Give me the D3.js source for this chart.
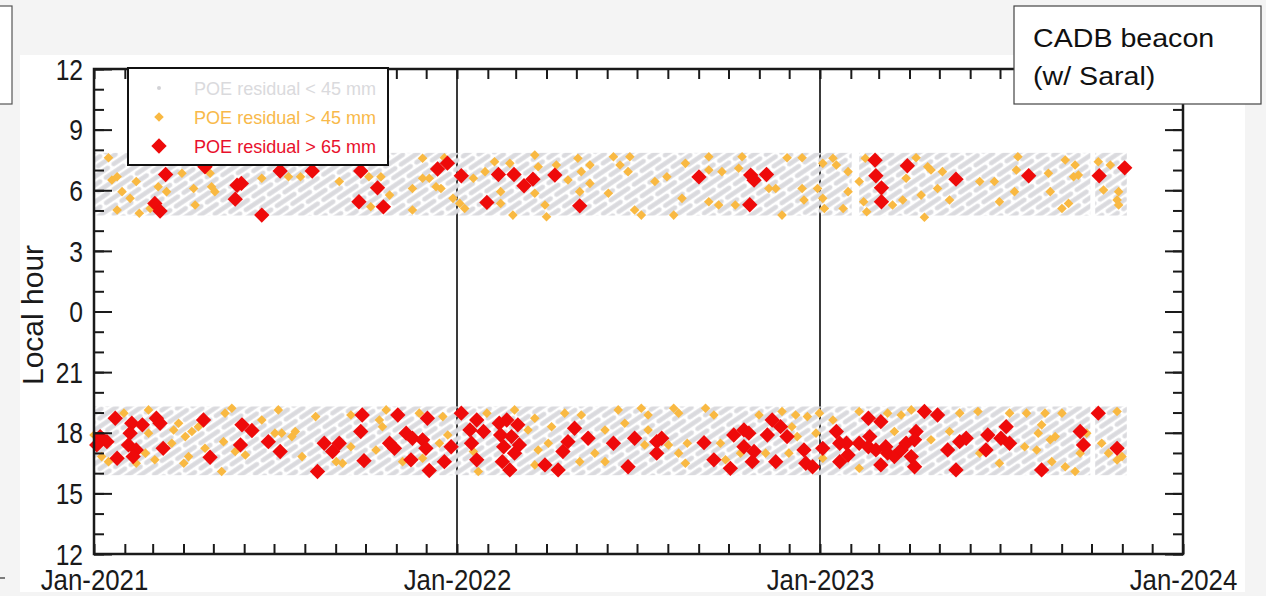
<!DOCTYPE html>
<meta charset="utf-8">
<html lang="en">
<head>
    <title>CADB beacon local hour</title>
    <script src="https://cdn.jsdelivr.net/npm/d3@7"></script>
</head>
<style>
    body { margin: 0; background: #f4f4f4; }
    text { font-family: "Liberation Sans", Arial, Helvetica, sans-serif; }
    .tick text { fill: #1a1a1a; }
    .tick line { stroke: #1a1a1a; stroke-width: 2; }
</style>
<body>
<script>
    // points as [months since Jan-2021, local hour]
    var redAM = [[2.42,6.78],[3.72,7.16],[6.20,6.95],[7.24,6.95],[8.84,6.95],[11.37,7.05],[11.69,7.34],[4.77,6.25],
        [4.91,6.34],[4.71,5.56],[2.07,5.35],[2.24,4.97],[5.59,4.77],[9.39,6.12],[8.78,5.43],[9.58,5.18],[12.14,6.72],
        [13.38,6.78],[13.94,6.78],[14.27,6.22],[14.56,6.55],[15.28,6.75],[12.97,5.40],[16.11,5.23],[20.01,6.66],
        [21.72,6.75],[21.83,6.50],[22.24,6.78],[21.69,5.28],[25.87,7.49],[25.90,6.72],[26.09,6.12],[26.09,5.43],
        [26.93,7.21],[28.54,6.55],[30.93,6.72],[33.25,6.72],[34.08,7.11]];

    var orangeAM = [[0.47,7.61],[0.58,6.51],[0.75,6.67],[0.91,5.93],[1.19,5.60],[0.75,5.02],[1.52,4.86],[1.41,6.43],
        [1.91,5.10],[2.18,6.17],[2.45,5.93],[2.95,6.84],[3.34,6.09],[3.39,5.27],[3.94,6.17],[4.05,5.93],[3.89,6.84],
        [5.59,6.59],[6.47,6.67],[6.86,6.67],[8.12,6.43],[9.11,6.67],[9.50,6.67],[9.78,5.76],[9.17,5.18],[10.54,6.09],
        [10.54,5.02],[10.88,7.58],[10.88,6.59],[11.10,6.59],[11.32,6.17],[11.48,6.09],[11.59,7.61],[11.87,5.60],
        [12.09,5.35],[12.25,5.10],[12.53,6.59],[12.91,6.92],[13.24,7.41],[13.46,5.93],[13.46,5.35],[13.90,4.77],
        [13.79,7.33],[14.62,7.74],[14.73,7.16],[14.62,5.85],[14.95,5.27],[15.00,4.69],[15.33,7.25],[15.72,6.51],
        [16.05,7.58],[16.11,5.93],[16.16,6.92],[16.44,6.34],[16.44,7.25],[17.04,5.85],[17.21,7.66],[17.43,7.25],
        [17.76,7.66],[17.70,6.92],[17.92,5.02],[18.14,4.77],[18.58,6.43],[18.97,6.67],[19.19,4.77],[19.46,5.60],
        [19.57,7.33],[20.34,7.66],[20.34,7.00],[20.34,5.43],[20.67,5.27],[20.78,6.92],[21.22,5.27],[21.33,7.09],
        [21.44,7.66],[22.32,6.09],[22.55,6.09],[22.76,4.77],[22.93,7.61],[23.42,7.61],[23.42,6.09],[23.48,5.52],
        [23.92,6.09],[24.09,5.60],[24.14,5.10],[24.09,7.33],[24.42,7.58],[24.53,7.25],[24.91,6.92],[24.91,5.93],
        [24.75,5.10],[25.30,6.43],[25.52,7.58],[25.57,4.94],[25.46,5.43],[26.45,5.27],[26.78,5.52],[26.89,6.59],
        [27.22,7.61],[27.39,5.76],[27.50,4.66],[27.61,7.16],[27.72,7.00],[27.94,6.09],[28.10,6.92],[28.33,5.52],
        [29.32,6.43],[29.81,6.43],[29.98,5.43],[30.47,5.93],[30.58,7.66],[30.53,7.00],[31.57,6.84],[31.63,5.93],
        [32.01,5.10],[32.23,5.35],[32.12,7.50],[32.45,7.25],[32.56,6.75],[32.40,6.67],[33.22,7.41],[33.61,7.25],
        [33.39,6.01],[33.88,5.93],[33.83,5.52],[33.88,5.27]];

    var redPM = [[0.69,18.72],[0.20,17.81],[0.42,17.56],[0.09,17.40],[1.25,18.47],[1.19,17.98],[1.63,18.39],
        [1.13,17.40],[1.41,17.15],[1.30,16.82],[0.75,16.74],[2.12,18.72],[2.24,18.47],[2.34,17.23],[3.67,18.63],
        [3.89,16.79],[4.93,18.39],[5.26,18.11],[4.88,17.40],[5.81,17.56],[6.20,17.07],[7.63,17.48],[7.90,17.07],
        [8.12,17.48],[7.41,16.08],[8.89,18.88],[8.84,18.06],[8.95,16.62],[10.05,18.88],[9.78,17.48],[9.94,17.23],
        [10.33,17.98],[10.54,17.73],[10.88,17.65],[10.99,17.23],[10.49,16.66],[11.04,18.72],[11.10,16.13],
        [11.59,16.57],[12.14,18.97],[11.81,17.31],[12.64,18.63],[12.42,18.14],[12.86,18.06],[12.47,17.48],
        [12.64,16.66],[13.41,18.47],[13.68,18.63],[14.07,18.39],[13.46,17.89],[13.85,17.81],[13.57,17.31],
        [14.12,17.40],[13.96,16.99],[13.52,16.57],[13.79,16.16],[14.95,16.41],[15.39,16.16],[15.55,17.07],
        [15.72,17.56],[15.94,18.22],[16.38,17.73],[17.21,17.48],[17.70,16.32],[17.92,17.73],[18.64,17.56],
        [18.80,17.73],[18.64,16.99],[20.18,17.51],[20.51,16.66],[21.06,16.24],[21.17,17.89],[21.50,18.14],
        [21.66,17.98],[21.50,17.31],[21.83,17.07],[21.77,16.57],[22.43,18.63],[22.27,17.89],[22.71,18.30],
        [22.93,17.81],[22.55,16.57],[23.48,17.15],[23.54,16.49],[23.76,16.32],[24.09,17.23],[24.53,18.06],
        [24.64,17.48],[24.86,17.48],[24.64,16.57],[24.91,16.90],[25.30,17.48],[25.63,18.72],[26.07,18.55],
        [25.68,17.81],[25.63,17.31],[25.90,17.15],[26.07,16.41],[26.29,16.99],[26.23,17.31],[26.51,16.82],
        [26.73,17.15],[26.89,17.48],[27.06,16.82],[27.17,16.32],[27.22,18.06],[27.17,17.65],[27.50,19.05],
        [27.94,18.88],[28.27,17.15],[28.54,16.16],[28.66,17.56],[28.87,17.73],[29.53,17.15],[29.59,17.89],
        [30.20,18.30],[30.03,17.73],[30.31,17.48],[31.35,16.16],[32.62,18.06],[32.73,17.40],[33.22,18.97],
        [33.83,17.23]];

    var orangePM = [[0.00,17.89],[0.25,16.82],[0.47,16.57],[0.97,18.97],[1.41,16.49],[1.85,19.13],[1.85,17.98],
        [1.74,16.99],[2.07,16.66],[2.68,18.14],[2.62,17.48],[2.84,18.47],[3.06,17.81],[3.28,18.06],[3.50,18.30],
        [3.17,16.82],[3.01,16.49],[3.72,17.23],[4.33,17.56],[4.60,19.21],[4.38,18.97],[4.27,16.08],[4.71,17.07],
        [5.04,16.90],[5.59,18.63],[6.03,17.98],[6.25,17.98],[6.58,17.81],[6.69,18.06],[6.14,19.13],[7.35,18.80],
        [6.91,16.82],[8.02,16.57],[8.23,16.49],[8.51,18.88],[8.51,17.31],[9.45,18.63],[9.67,19.13],[9.34,17.15],
        [9.55,18.30],[10.77,18.97],[11.54,18.80],[11.43,17.48],[10.88,16.74],[10.21,16.57],[11.70,17.89],
        [12.53,17.07],[12.69,16.08],[12.97,18.97],[13.96,19.13],[14.40,18.14],[14.62,18.72],[14.73,17.15],
        [14.62,16.41],[15.06,17.48],[15.17,18.30],[15.61,18.97],[16.16,18.88],[16.11,16.57],[16.60,16.99],
        [16.93,18.14],[16.93,16.57],[17.37,19.13],[17.59,18.47],[18.14,19.21],[18.36,18.88],[18.36,18.14],
        [18.25,17.40],[19.02,17.40],[19.19,19.21],[19.35,18.97],[19.35,16.99],[19.63,17.48],[19.57,16.49],
        [20.23,19.21],[20.51,18.88],[20.73,17.48],[20.90,16.66],[21.39,16.99],[21.99,18.88],[22.21,16.99],
        [22.99,16.99],[23.09,18.30],[22.76,19.05],[23.21,18.88],[23.26,17.81],[23.59,18.80],[23.87,17.98],
        [23.98,18.97],[24.09,16.74],[24.42,18.63],[25.30,19.05],[25.30,16.24],[26.29,18.97],[26.73,18.88],
        [27.06,19.13],[26.51,18.06],[27.72,17.65],[28.33,18.06],[28.66,18.97],[29.26,19.05],[29.32,16.99],
        [29.98,16.49],[30.31,18.97],[30.86,18.97],[30.80,17.31],[31.24,17.98],[31.35,18.39],[31.46,18.97],
        [31.63,17.65],[31.79,17.81],[31.68,16.57],[31.19,17.15],[32.01,18.97],[32.12,16.32],[32.45,16.08],
        [32.84,17.98],[32.62,16.99],[33.33,17.48],[33.55,16.99],[33.83,19.05],[33.83,16.65],[33.99,16.82]];

    // grey (residual < 45 mm) coverage: [from month, to month, low hour, high hour]
    var greyBands = [[0, 25.03, 4.75, 7.85], [25.30, 32.96, 4.75, 7.85], [33.12, 34.15, 4.75, 7.85],
        [0, 32.96, 15.9, 19.3], [33.12, 34.15, 15.9, 19.3]];

    var yearTicks = [new Date(2021, 0, 1), new Date(2022, 0, 1), new Date(2023, 0, 1), new Date(2024, 0, 1)];
    var yearLines = [new Date(2022, 0, 1), new Date(2023, 0, 1)];
    var legendLabels = ["POE residual < 45 mm", "POE residual > 45 mm", "POE residual > 65 mm"];
    var legendColors = ["#dadadd", "#f8b94a", "#e8102c"];

    var base = new Date(2021, 0, 1);
    function toDate(m) {
        var w = Math.floor(m), a = d3.timeMonth.offset(base, w), b = d3.timeMonth.offset(base, w + 1);
        return new Date(+a + (m - w) * (b - a));
    }
    // morning hours above 0, evening hours wrapped below it
    function toY(h) { return h > 12 ? h - 24 : h; }

    var W = 1266, H = 596;
    var svg = d3.select("body").append("svg").attr("width", W).attr("height", H);

    svg.append("rect").attr("x", 20).attr("y", 55).attr("width", 1225).attr("height", 537).attr("fill", "#fff");
    svg.append("rect").attr("x", -2).attr("y", 6).attr("width", 14).attr("height", 98)
        .attr("fill", "#fff").attr("stroke", "#555").attr("stroke-width", 1.2);
    svg.append("line").attr("x1", 0).attr("x2", 5).attr("y1", 578).attr("y2", 578)
        .attr("stroke", "#555").attr("stroke-width", 1.5);

    var x = d3.scaleTime().domain([base, new Date(2024, 0, 1)]).range([94, 1183]);
    var y = d3.scaleLinear().domain([-12, 12]).range([554, 69]);

    function squeeze(sel, k) {
        sel.each(function () {
            var w = this.getComputedTextLength();
            d3.select(this).attr("textLength", w * k).attr("lengthAdjust", "spacingAndGlyphs");
        });
    }

    // hatch pattern for the grey passes
    var defs = svg.append("defs");
    var pat = defs.append("pattern").attr("id", "hatch").attr("patternUnits", "userSpaceOnUse")
        .attr("width", 28).attr("height", 14).attr("patternTransform", "rotate(-34)");
    [[2.5, 23.5, 3.5], [16.5, 37.5, 10.5], [-11.5, 9.5, 10.5]].forEach(function (s) {
        pat.append("line").attr("x1", s[0]).attr("x2", s[1]).attr("y1", s[2]).attr("y2", s[2])
            .attr("stroke", "#dadade").attr("stroke-width", 4.6).attr("stroke-linecap", "round");
    });

    svg.append("g").selectAll("line").data(yearLines).join("line")
        .attr("x1", d => x(d)).attr("x2", d => x(d)).attr("y1", y(12)).attr("y2", y(-12))
        .attr("stroke", "#3a3a3a").attr("stroke-width", 2);

    svg.append("g").selectAll("rect").data(greyBands).join("rect")
        .attr("x", d => x(toDate(d[0]))).attr("width", d => x(toDate(d[1])) - x(toDate(d[0])))
        .attr("y", d => y(toY(d[3]))).attr("height", d => y(toY(d[2])) - y(toY(d[3])))
        .attr("fill", "url(#hatch)");

    function drawPoints(data, size, color) {
        svg.append("g").selectAll("path").data(data).join("path")
            .attr("d", d3.symbol().type(d3.symbolSquare).size(size))
            .attr("transform", d => "translate(" + x(toDate(d[0])) + "," + y(toY(d[1])) + ") rotate(45)")
            .attr("fill", color);
    }
    drawPoints(orangeAM.concat(orangePM), 46, "#f9b942");
    drawPoints(redAM.concat(redPM), 118, "#ee0a0a");

    // axes
    var hours = d3.range(-12, 13), majors = d3.range(-12, 13, 3);
    var fmtH = v => String(((v % 24) + 24) % 24);

    svg.append("g").attr("transform", "translate(94,0)")
        .call(d3.axisLeft(y).tickValues(hours).tickSize(-10).tickFormat(""));
    var ya = svg.append("g").attr("transform", "translate(94,0)")
        .call(d3.axisLeft(y).tickValues(majors).tickSize(-18).tickPadding(11).tickFormat(fmtH));
    ya.selectAll("text").attr("font-size", 30).attr("dy", "0.34em");
    squeeze(ya.selectAll("text"), 0.82);
    svg.append("g").attr("transform", "translate(1183,0)")
        .call(d3.axisRight(y).tickValues(hours).tickSize(-10).tickFormat(""));
    svg.append("g").attr("transform", "translate(1183,0)")
        .call(d3.axisRight(y).tickValues(majors).tickSize(-18).tickFormat(""));

    svg.append("g").attr("transform", "translate(0,554)")
        .call(d3.axisBottom(x).ticks(d3.timeMonth.every(1)).tickSize(-10).tickFormat(""));
    svg.append("g").attr("transform", "translate(0,69)")
        .call(d3.axisTop(x).ticks(d3.timeMonth.every(1)).tickSize(-10).tickFormat(""));
    var xa = svg.append("g").attr("transform", "translate(0,554)")
        .call(d3.axisBottom(x).tickValues(yearTicks).tickSize(0).tickPadding(15).tickFormat(d3.timeFormat("%b-%Y")));
    xa.selectAll("text").attr("font-size", 30);
    squeeze(xa.selectAll("text"), 0.86);
    svg.selectAll(".domain").remove();

    svg.append("rect").attr("x", 94).attr("y", 69).attr("width", 1089).attr("height", 485)
        .attr("fill", "none").attr("stroke", "#1a1a1a").attr("stroke-width", 2.5);

    svg.append("text").attr("transform", "translate(43,315) rotate(-90)")
        .attr("text-anchor", "middle").attr("font-size", 30).attr("fill", "#1a1a1a").text("Local hour");

    // legend
    var lg = svg.append("g").attr("transform", "translate(128,68)");
    lg.append("rect").attr("width", 260).attr("height", 97).attr("fill", "#fff")
        .attr("stroke", "#111").attr("stroke-width", 2);
    var sizes = [0, 46, 118];
    legendLabels.forEach(function (t, i) {
        var row = lg.append("g").attr("transform", "translate(0," + (20 + i * 29) + ")");
        if (i === 0) row.append("circle").attr("cx", 31).attr("r", 2).attr("fill", "#d2d2d6");
        else row.append("path").attr("d", d3.symbol().type(d3.symbolSquare).size(sizes[i])())
            .attr("transform", "translate(31,0) rotate(45)").attr("fill", i === 1 ? "#f9b942" : "#ee0a0a");
        var tx = row.append("text").attr("x", 66).attr("y", 7).attr("font-size", 19)
            .attr("fill", legendColors[i]).text(t);
        squeeze(tx, 0.95);
    });

    // annotation box
    svg.append("rect").attr("x", 1014).attr("y", 6).attr("width", 247).attr("height", 98)
        .attr("fill", "#fff").attr("stroke", "#444").attr("stroke-width", 1.2);
    var ann = svg.append("g").attr("font-size", 26).attr("fill", "#111");
    ann.append("text").attr("x", 1033).attr("y", 47).text("CADB beacon");
    ann.append("text").attr("x", 1033).attr("y", 85).text("(w/ Saral)");
    squeeze(ann.selectAll("text"), 1.1);
</script>
</body>
</html>
